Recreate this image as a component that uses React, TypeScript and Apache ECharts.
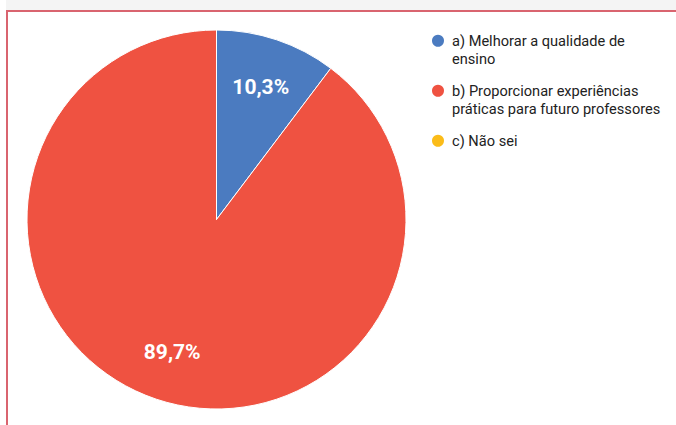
import React, { useEffect, useRef } from "react";
import * as echarts from "echarts";

const categories = [
  "a) Melhorar a qualidade de\nensino",
  "b) Proporcionar experiências\npráticas para futuro professores",
  "c) Não sei",
];
const values = [10.3, 89.7, 0];
const colors = ["#4b7bc0", "#ef5241", "#fbbc19"];

export default function App() {
  const ref = useRef<HTMLDivElement>(null);
  useEffect(() => {
    if (!ref.current) return;
    const chart = echarts.init(ref.current, null, { renderer: "svg" });
    const data = categories.map((name, i) => ({ name, value: values[i] }));
    chart.setOption({
      animation: false,
      backgroundColor: "#ffffff",
      color: colors,
      graphic: [
        { type: "rect", shape: { x: 0, y: 0, width: 676, height: 10 }, style: { fill: "#f4f4f4" }, silent: true },
        { type: "rect", shape: { x: 0, y: 0, width: 6, height: 425 }, style: { fill: "#ffffff" }, silent: true },
        { type: "rect", shape: { x: 6, y: 10, width: 670, height: 2 }, style: { fill: "#d9646f" }, silent: true },
        { type: "rect", shape: { x: 6, y: 10, width: 2, height: 415 }, style: { fill: "#d9646f" }, silent: true },
      ],
      legend: {
        orient: "vertical",
        left: 430,
        top: 13,
        padding: 0,
        itemGap: -5.5,
        icon: "circle",
        itemWidth: 18,
        itemHeight: 14,
        formatter: (name: string) =>
          "\n" + name + (name.indexOf("\n") < 0 ? "\n" : ""),
        textStyle: {
          fontFamily: "Roboto",
          fontSize: 14.6,
          color: "#222222",
          lineHeight: 18.5,
        },
        selectedMode: false,
      },
      series: [
        {
          type: "pie",
          center: [216.5, 219.5],
          radius: [0, 189.5],
          startAngle: 90,
          clockwise: true,
          label: { show: false },
          labelLine: { show: false },
          itemStyle: { borderColor: "#ffffff", borderWidth: 1 },
          emphasis: { disabled: true },
          data,
        },
        {
          type: "pie",
          center: [216.5, 219.5],
          radius: [83, 189.5],
          startAngle: 90,
          clockwise: true,
          silent: true,
          itemStyle: { color: "rgba(0,0,0,0)", borderWidth: 0 },
          emphasis: { disabled: true },
          labelLine: { show: false },
          label: {
            show: true,
            position: "inside",
            color: "#ffffff",
            fontFamily: "Roboto",
            fontWeight: "bold",
            fontSize: 21,
            formatter: (p: any) =>
              p.value > 0 ? p.value.toFixed(1).replace(".", ",") + "%" : "",
          },
          data,
        },
      ],
    });
    return () => chart.dispose();
  }, []);
  return (
    <div
      ref={ref}
      style={{ position: "fixed", left: 0, top: 0, width: 676, height: 425 }}
    />
  );
}
